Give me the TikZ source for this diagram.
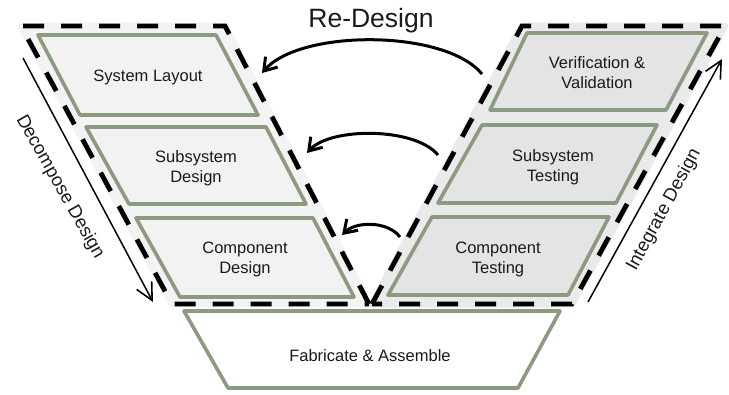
\documentclass[tikz,border=0pt]{standalone}
\usepackage{fontspec}
\setmainfont{Liberation Sans}
\usetikzlibrary{arrows.meta}

\definecolor{boxline}{HTML}{8B9B80}
\definecolor{leftbg}{HTML}{F3F3F3}
\definecolor{leftfill}{HTML}{F2F2F2}
\definecolor{rightbg}{HTML}{EAEAEA}
\definecolor{rightfill}{HTML}{E4E4E4}
\definecolor{ink}{HTML}{1A1A1A}

\tikzset{
  stagebox/.style={draw=boxline, line width=3.6pt, line join=round},
  halo/.style={line width=7pt, line join=round},
  groupdash/.style={draw=black, line width=4.8pt, dash pattern=on 21pt off 17pt, line join=miter},
  boxtext/.style={text=ink, align=center, inner sep=0pt,
    font=\fontsize{16.5}{20}\selectfont},
  sidetext/.style={text=ink, inner sep=0pt, font=\fontsize{18.5}{22}\selectfont},
  loop/.style={draw=black, line width=3pt,
    -{Straight Barb[length=12pt, width=16pt, line width=3pt]}},
  flow/.style={draw=black, line width=1.5pt,
    -{Straight Barb[length=17pt, width=17pt, line width=1.6pt]}},
}

\begin{document}
\begin{tikzpicture}[x=1pt, y=-1pt]
\useasboundingbox (0,0) rectangle (729,394);

% corners of the two dashed groups
\coordinate (LA) at (21,26);
\coordinate (LB) at (225,26);
\coordinate (LC) at (369,304);
\coordinate (LD) at (172,304);
\coordinate (RA) at (522,26);
\coordinate (RB) at (725,26);
\coordinate (RC) at (572,304);
\coordinate (RD) at (372,304);

% group backgrounds
\path[fill=leftbg, draw=leftbg, halo] (LA) -- (LB) -- (LC) -- (LD) -- cycle;
\path[fill=rightbg, draw=rightbg, halo] (RA) -- (RB) -- (RC) -- (RD) -- cycle;

% design stages (left leg)
\path[stagebox, fill=leftfill] (38,35) -- (216,35) -- (258,115) -- (80,115) -- cycle;
\path[stagebox, fill=leftfill] (86,127) -- (266,127) -- (306,204) -- (129,204) -- cycle;
\path[stagebox, fill=leftfill] (136,218) -- (313,218) -- (354,297) -- (180,297) -- cycle;

% test stages (right leg)
\path[stagebox, fill=rightfill] (527,33) -- (707,33) -- (666,110) -- (490,110) -- cycle;
\path[stagebox, fill=rightfill] (482,125) -- (657,125) -- (616,203) -- (438,203) -- cycle;
\path[stagebox, fill=rightfill] (432,217) -- (609,217) -- (568,295) -- (388,295) -- cycle;

% bottom stage
\path[stagebox, fill=white] (184,311) -- (560,311) -- (518,388) -- (228,388) -- cycle;

% dashed group outlines
\draw[groupdash] (LC) -- (LB) -- (LA) -- (LD) -- cycle;
\draw[groupdash] (RD) -- (RA) -- (RB) -- (RC) -- cycle;

% stage labels
\node[boxtext] (sys)   at (148,77.5) {System Layout};
\node[boxtext] (subd)  at (196,168)  {Subsystem\\Design};
\node[boxtext] (compd) at (245,259)  {Component\\Design};
\node[boxtext] (vv)    at (597,72.5) {Verification \&\\Validation};
\node[boxtext] (subt)  at (553,167.5){Subsystem\\Testing};
\node[boxtext] (compt) at (498,259)  {Component\\Testing};
\node[boxtext] (fab)   at (370,356)  {Fabricate \& Assemble};

% re-design loops
\node[text=ink, inner sep=0pt, anchor=base, font=\fontsize{26.5}{30}\selectfont]
  (redesign) at (371,27) {Re-Design};
\coordinate (r1s) at (482,74);
\coordinate (r1e) at (262,73);
\coordinate (r2s) at (438,155);
\coordinate (r2e) at (307,153);
\coordinate (r3s) at (400,237);
\coordinate (r3e) at (342,235);
\draw[loop] (r1s) .. controls (445,29) and (300,29) .. (r1e);
\draw[loop] (r2s) .. controls (415,127) and (330,127) .. (r2e);
\draw[loop] (r3s) .. controls (388,221) and (356,221) .. (r3e);

% side flows
\coordinate (dcs) at (23,58);
\coordinate (dce) at (153,302);
\coordinate (ins) at (588,302);
\coordinate (ine) at (722,59);
\draw[flow] (dcs) -- (dce);
\draw[flow] (ins) -- (ine);
\node[sidetext, rotate=-60.5] (decomp) at (60,187) {Decompose Design};
\node[sidetext, rotate=61.5] (integ) at (664,210) {Integrate Design};
\end{tikzpicture}
\end{document}
